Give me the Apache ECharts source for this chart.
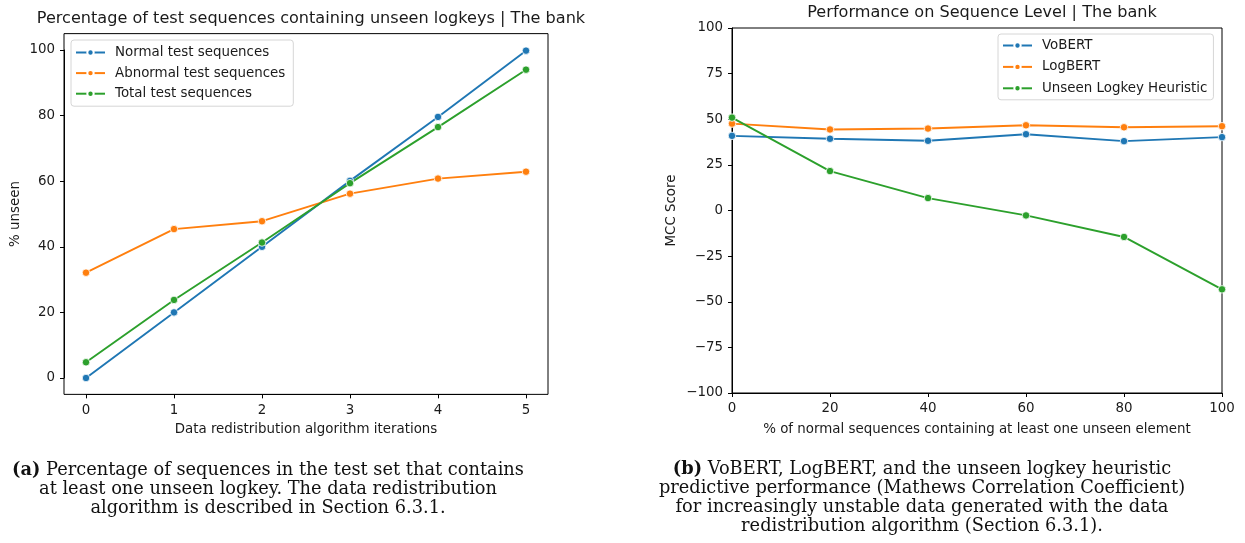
<!DOCTYPE html>
<html>
<head>
<meta charset="utf-8">
<script src="https://cdn.jsdelivr.net/npm/echarts@6/dist/echarts.min.js"></script>
<style>
html,body{margin:0;padding:0;background:#fff;}
#c{width:1245px;height:543px;}
</style>
</head>
<body>
<div id="c"></div>
<script>
// ---- Data: left chart ----
const iterations = [0, 1, 2, 3, 4, 5];
const normalSeq = [0, 20, 40, 60.1, 79.6, 99.8];
const abnormalSeq = [32.1, 45.4, 47.8, 56.2, 60.8, 62.9];
const totalSeq = [4.8, 23.8, 41.3, 59.4, 76.5, 94.0];
const leftNames = ['Normal test sequences', 'Abnormal test sequences', 'Total test sequences'];

// ---- Data: right chart ----
const pctUnseen = [0, 20, 40, 60, 80, 100];
const vobert = [40.9, 39.3, 38.2, 41.8, 38.0, 40.2];
const logbert = [47.6, 44.4, 44.9, 46.7, 45.6, 46.2];
const heuristic = [50.9, 21.6, 6.8, -2.7, -14.5, -43.2];
const rightNames = ['VoBERT', 'LogBERT', 'Unseen Logkey Heuristic'];

const C = ['#1f77b4', '#ff7f0e', '#2ca02c'];
const FONT = 'DejaVu Sans';
const TXT = '#1a1a1a';
const FS = 13.4;

// left grid covers data extent exactly; frame is expanded by matplotlib's 5% margins
const LG = {left: 86, top: 50, width: 440, height: 328};
const xPad = 0.05 * LG.width;
const yPad = 0.05 * 99.8 * (LG.height / 100);
const LF = {x: LG.left - xPad, y: LG.top - yPad, w: LG.width + 2 * xPad, h: LG.height + 2 * yPad};

const RG = {left: 732, top: 28, width: 490, height: 365};

function pairs(xs, ys) { return xs.map((x, i) => [x, ys[i]]); }
function mk(name, xs, ys, color, idx) {
  return {
    name: name, type: 'line', xAxisIndex: idx, yAxisIndex: idx,
    data: pairs(xs, ys), color: color,
    symbol: 'circle', symbolSize: 7.5, clip: false,
    lineStyle: {width: 1.9, color: color},
    itemStyle: {color: color, borderColor: '#fff', borderWidth: 0.8},
    emphasis: {disabled: true}, animation: false
  };
}
const minus = v => String(v).replace('-', '\u2212');

function axis(extra) {
  const base = {
    axisLine: {show: true, onZero: false, lineStyle: {color: '#000', width: 1}},
    axisTick: {show: true, inside: false, length: 4, lineStyle: {color: '#000', width: 1}},
    splitLine: {show: false},
    axisLabel: {color: TXT, fontFamily: FONT, fontSize: FS, margin: 8},
    nameTextStyle: {color: TXT, fontFamily: FONT, fontSize: FS}
  };
  const o = Object.assign({}, base, extra);
  if (extra.axisLabel) o.axisLabel = Object.assign({}, base.axisLabel, extra.axisLabel);
  return o;
}

const capFont = 'DejaVu Serif';
const capSize = 17.8;
function capLine(text, x, y) {
  return {
    type: 'text', x: x, y: y, silent: true,
    style: {
      text: text, textAlign: 'center', textVerticalAlign: 'middle',
      fontFamily: capFont, fontSize: capSize, fill: '#111',
      rich: {b: {fontFamily: capFont, fontSize: capSize, fontWeight: 'bold', fill: '#111'}}
    }
  };
}

const legendCommon = {
  orient: 'vertical', itemGap: 7.6, itemWidth: 29, itemHeight: 8,
  backgroundColor: 'rgba(255,255,255,0.8)', borderColor: '#d6d6d6', borderWidth: 1, borderRadius: 3,
  textStyle: {fontFamily: FONT, fontSize: FS, color: TXT, padding: [0, 0, 0, 5]}
};

const chart = echarts.init(document.getElementById('c'), null, {renderer: 'canvas'});
chart.setOption({
  animation: false,
  backgroundColor: '#fff',
  title: [
    {text: 'Percentage of test sequences containing unseen logkeys | The bank', left: LF.x + LF.w / 2, textAlign: 'center', top: 6,
     textStyle: {fontFamily: FONT, fontSize: 16.1, fontWeight: 'normal', color: TXT}},
    {text: 'Performance on Sequence Level | The bank', left: RG.left + RG.width / 2, textAlign: 'center', top: 0,
     textStyle: {fontFamily: FONT, fontSize: 16.1, fontWeight: 'normal', color: TXT}}
  ],
  legend: [
    Object.assign({}, legendCommon, {data: leftNames, left: 71, top: 40, padding: [6, 8, 6, 4]}),
    Object.assign({}, legendCommon, {data: rightNames, left: 998, top: 34, itemGap: 8.4, padding: [5, 6, 5, 4]})
  ],
  grid: [
    {left: LG.left, top: LG.top, width: LG.width, height: LG.height, containLabel: false},
    {left: RG.left, top: RG.top, width: RG.width, height: RG.height, containLabel: false,
     show: true, borderColor: '#000', borderWidth: 1, backgroundColor: 'transparent'}
  ],
  xAxis: [
    axis({type: 'value', gridIndex: 0, position: 'bottom', min: 0, max: 5, interval: 1, offset: yPad,
      name: 'Data redistribution algorithm iterations', nameLocation: 'middle', nameGap: 29, axisLabel: {margin: 10}}),
    axis({type: 'value', gridIndex: 1, position: 'bottom', min: 0, max: 100, interval: 20,
      name: '% of normal sequences containing at least one unseen element', nameLocation: 'middle', nameGap: 30, axisLabel: {margin: 9}})
  ],
  yAxis: [
    axis({type: 'value', gridIndex: 0, position: 'left', min: 0, max: 100, interval: 20, offset: xPad,
      name: '% unseen', nameLocation: 'middle', nameGap: 42, axisLabel: {margin: 9}}),
    axis({type: 'value', gridIndex: 1, position: 'left', min: -100, max: 100, interval: 25,
      name: 'MCC Score', nameLocation: 'middle', nameGap: 54, axisLabel: {margin: 9, formatter: minus}})
  ],
  graphic: [
    {type: 'rect', silent: true, z: 0,
     shape: {x: LF.x, y: LF.y, width: LF.w, height: LF.h},
     style: {fill: 'none', stroke: '#000', lineWidth: 1}},
    capLine('{b|(a)} Percentage of sequences in the test set that contains', 268, 470),
    capLine('at least one unseen logkey. The data redistribution', 268, 489),
    capLine('algorithm is described in Section 6.3.1.', 268, 508),
    capLine('{b|(b)} VoBERT, LogBERT, and the unseen logkey heuristic', 922, 469),
    capLine('predictive performance (Mathews Correlation Coefficient)', 922, 488),
    capLine('for increasingly unstable data generated with the data', 922, 507),
    capLine('redistribution algorithm (Section 6.3.1).', 922, 526)
  ],
  series: [
    mk(leftNames[0], iterations, normalSeq, C[0], 0),
    mk(leftNames[1], iterations, abnormalSeq, C[1], 0),
    mk(leftNames[2], iterations, totalSeq, C[2], 0),
    mk(rightNames[0], pctUnseen, vobert, C[0], 1),
    mk(rightNames[1], pctUnseen, logbert, C[1], 1),
    mk(rightNames[2], pctUnseen, heuristic, C[2], 1)
  ]
});
</script>
</body>
</html>
